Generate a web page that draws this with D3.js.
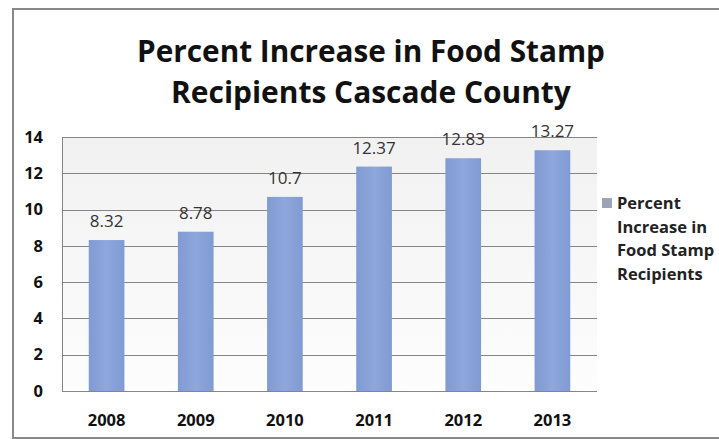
<!DOCTYPE html>
<html>
<head>
<meta charset="utf-8">
<script src="https://cdn.jsdelivr.net/npm/d3@7"></script>
<style>
  body { margin: 0; background: #fff; }
  svg { display: block; font-family: "Open Sans", "Noto Sans", sans-serif; }
</style>
</head>
<body>
<div id="graph"></div>
<script>
// chart data
const years = ["2008", "2009", "2010", "2011", "2012", "2013"];
const values = [8.32, 8.78, 10.7, 12.37, 12.83, 13.27];
const valueLabels = ["8.32", "8.78", "10.7", "12.37", "12.83", "13.27"];
const yTicks = [0, 2, 4, 6, 8, 10, 12, 14];
const titleLines = ["Percent Increase in Food Stamp", "Recipients Cascade County"];
const legendLines = ["Percent", "Increase in", "Food Stamp", "Recipients"];

const width = 719;
const height = 439;
const margin = { top: 137, right: 122, bottom: 48, left: 62 };

const svg = d3.select('#graph').append('svg')
    .attr('width', width)
    .attr('height', height);

const defs = svg.append('defs');
const bg = defs.append('linearGradient').attr('id', 'plotbg')
    .attr('x1', 0).attr('y1', 0).attr('x2', 0).attr('y2', 1);
bg.append('stop').attr('offset', '0%').attr('stop-color', '#f1f1f1');
bg.append('stop').attr('offset', '100%').attr('stop-color', '#fdfdfd');

const barGrad = defs.append('linearGradient').attr('id', 'bargrad')
    .attr('x1', 0).attr('y1', 0).attr('x2', 1).attr('y2', 0);
barGrad.append('stop').attr('offset', '0%').attr('stop-color', '#809ad3');
barGrad.append('stop').attr('offset', '50%').attr('stop-color', '#8ea8dc');
barGrad.append('stop').attr('offset', '100%').attr('stop-color', '#809ad3');

// outer frame (left, top, bottom edges visible)
svg.append('path')
    .attr('d', `M${width},9 H13 V${height - 1} H${width}`)
    .attr('fill', 'none')
    .attr('stroke', '#8a8a8a')
    .attr('stroke-width', 2);

// scales
const x = d3.scaleBand()
    .domain(years)
    .range([margin.left, width - margin.right])
    .paddingInner(0.6)
    .paddingOuter(0.3);

const y = d3.scaleLinear()
    .domain([0, 14])
    .range([height - margin.bottom, margin.top]);

// plot background
svg.append('rect')
    .attr('x', margin.left)
    .attr('y', margin.top)
    .attr('width', width - margin.right - margin.left)
    .attr('height', y(0) - y(14))
    .attr('fill', 'url(#plotbg)');

// gridlines
svg.append('g')
    .selectAll('line')
    .data(yTicks)
    .enter().append('line')
    .attr('x1', margin.left)
    .attr('x2', width - margin.right)
    .attr('y1', d => Math.round(y(d)) + 0.5)
    .attr('y2', d => Math.round(y(d)) + 0.5)
    .attr('stroke', '#858585')
    .attr('stroke-width', 1);

// y axis labels
const yAxis = svg.append('g')
    .attr('transform', `translate(${margin.left}, 0)`)
    .call(d3.axisLeft(y).tickValues(yTicks).tickSize(0).tickPadding(19));
yAxis.select('.domain').attr('stroke', '#858585');
yAxis.selectAll('text')
    .attr('font-family', '"Open Sans", sans-serif')
    .attr('font-size', 16.5)
    .attr('font-weight', 'bold')
    .attr('fill', '#111');

// x axis labels
const xAxis = svg.append('g')
    .attr('transform', `translate(0, ${y(0)})`)
    .call(d3.axisBottom(x).tickSize(0).tickPadding(23));
xAxis.select('.domain').remove();
xAxis.selectAll('text')
    .attr('font-family', '"Open Sans", sans-serif')
    .attr('font-size', 16.5)
    .attr('font-weight', 'bold')
    .attr('fill', '#111');

// bars
svg.selectAll('.bar')
    .data(values)
    .enter().append('rect')
    .attr('class', 'bar')
    .attr('x', (d, i) => x(years[i]))
    .attr('y', d => y(d))
    .attr('width', x.bandwidth())
    .attr('height', d => y(0) - y(d))
    .attr('fill', 'url(#bargrad)');

// value labels
svg.selectAll('.vlabel')
    .data(values)
    .enter().append('text')
    .attr('class', 'vlabel')
    .attr('x', (d, i) => x(years[i]) + x.bandwidth() / 2)
    .attr('y', d => y(d) - 13)
    .attr('text-anchor', 'middle')
    .attr('font-size', 17)
    .attr('fill', '#333')
    .text((d, i) => valueLabels[i]);

// title, sized to match the original width
const titleWidths = [468, 400];
titleLines.forEach((line, i) => {
    const t = svg.append('text')
        .attr('x', 371)
        .attr('y', 62 + i * 41)
        .attr('text-anchor', 'middle')
        .attr('font-weight', 'bold')
        .attr('font-size', 28)
        .attr('fill', '#111')
        .text(line);
    const w = t.node().getComputedTextLength();
    t.attr('font-size', 28 * titleWidths[i] / w);
});

// legend
svg.append('rect')
    .attr('x', 602)
    .attr('y', 198)
    .attr('width', 10)
    .attr('height', 10)
    .attr('fill', '#9ba3b4');

svg.append('g')
    .selectAll('text')
    .data(legendLines)
    .enter().append('text')
    .attr('x', 617)
    .attr('y', (d, i) => 209 + i * 23.5)
    .attr('font-size', 16.5)
    .attr('font-weight', 'bold')
    .attr('fill', '#222')
    .text(d => d);
</script>
</body>
</html>
